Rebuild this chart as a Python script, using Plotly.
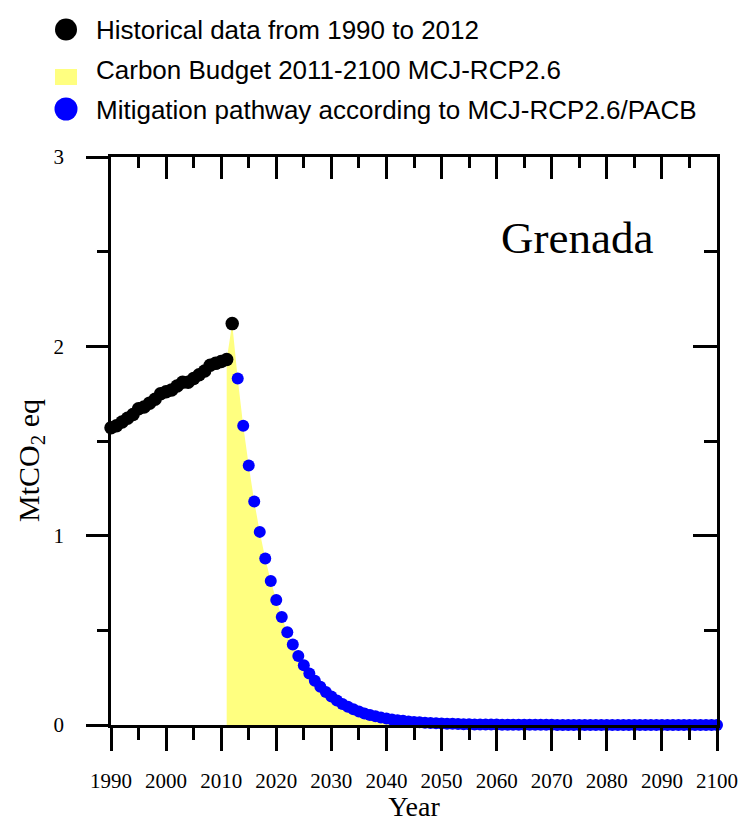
import plotly.graph_objects as go

# ---------------- data ----------------
hist_years = list(range(1990, 2013))
hist_values = [1.57, 1.58, 1.60, 1.62, 1.64, 1.67, 1.68, 1.70, 1.72, 1.75,
               1.76, 1.77, 1.79, 1.81, 1.81, 1.83, 1.85, 1.87, 1.90, 1.91,
               1.92, 1.93, 2.12]

mitig_years = list(range(2013, 2101))
mitig_values = [1.83, 1.58, 1.37, 1.18, 1.02, 0.88, 0.76, 0.66, 0.57, 0.49,
                0.425, 0.365, 0.315, 0.272, 0.234, 0.202, 0.174, 0.150, 0.129, 0.111,
                0.096, 0.083, 0.071, 0.061, 0.053, 0.046, 0.039, 0.034, 0.029, 0.025,
                0.022, 0.019, 0.016, 0.014, 0.012, 0.010, 0.009, 0.008, 0.007, 0.006,
                0.005, 0.004, 0.004, 0.003, 0.003, 0.002, 0.002, 0.002,
                0.001, 0.001, 0.001, 0.001, 0.001, 0.001, 0.001, 0.001, 0.001, 0.001,
                0.0, 0.0, 0.0, 0.0, 0.0, 0.0, 0.0, 0.0, 0.0, 0.0,
                0.0, 0.0, 0.0, 0.0, 0.0, 0.0, 0.0, 0.0, 0.0, 0.0,
                0.0, 0.0, 0.0, 0.0, 0.0, 0.0, 0.0, 0.0, 0.0, 0.0]

budget_start_year = 2011
country = "Grenada"
y_title = "MtCO<sub>2</sub> eq"
x_title = "Year"
legend_labels = ["Historical data from 1990 to 2012",
                 "Carbon Budget 2011-2100 MCJ-RCP2.6",
                 "Mitigation pathway according to MCJ-RCP2.6/PACB"]

# carbon budget polygon: from 2011 historical value, through 2012 peak, along pathway
i0 = hist_years.index(budget_start_year)
budget_x = hist_years[i0:] + mitig_years
budget_y = hist_values[i0:] + mitig_values

# ---------------- geometry helpers ----------------
W, H = 739, 822
L, R, T, B = 111, 717, 157, 725
PW, PH = R - L, B - T


def px(x):
    return (x - L) / PW


def py(y):
    return (B - y) / PH


SERIF = "Liberation Serif"
SANS = "Liberation Sans"

fig = go.Figure()

fig.add_trace(go.Scatter(x=budget_x, y=budget_y, mode="none", fill="tozeroy",
                         fillcolor="#ffff80", showlegend=False, hoverinfo="skip"))
fig.add_trace(go.Scatter(x=mitig_years, y=mitig_values, mode="markers",
                         marker=dict(color="#0000ff", size=12, line=dict(width=0)),
                         cliponaxis=False, showlegend=False))
fig.add_trace(go.Scatter(x=hist_years, y=hist_values, mode="markers",
                         marker=dict(color="black", size=13.5, line=dict(width=0)),
                         cliponaxis=False, showlegend=False))
# empty trace to create the mirrored (top/right) axes
fig.add_trace(go.Scatter(x=[], y=[], xaxis="x2", yaxis="y2", showlegend=False))

axis_common = dict(showgrid=False, zeroline=False, showline=True, linecolor="black",
                   linewidth=2.5, tickcolor="black", tickwidth=2.5, automargin=False)

fig.update_layout(
    width=W, height=H,
    margin=dict(l=L, r=W - R, t=T, b=H - B, pad=0, autoexpand=False),
    plot_bgcolor="white", paper_bgcolor="white",
    showlegend=False,
    xaxis=dict(range=[1990, 2100], dtick=10, tick0=1990, ticks="outside", ticklen=23,
               minor=dict(dtick=5, tick0=1990, ticks="outside", ticklen=12,
                          tickwidth=2.5, tickcolor="black"),
               tickfont=dict(family=SERIF, size=21, color="black"),
               ticklabelstandoff=12,
               title=dict(text=x_title, font=dict(family=SERIF, size=28, color="black"),
                          standoff=2),
               **axis_common),
    yaxis=dict(range=[0, 3], dtick=1, ticks="outside", ticklen=22,
               minor=dict(dtick=0.5, ticks="outside", ticklen=11,
                          tickwidth=2.5, tickcolor="black"),
               tickfont=dict(family=SERIF, size=21, color="black"),
               ticklabelstandoff=18,
               **axis_common),
    xaxis2=dict(range=[1990, 2100], overlaying="x", side="top", anchor="y2",
                dtick=10, tick0=1990, ticks="inside", ticklen=22, showticklabels=False,
                minor=dict(dtick=5, tick0=1990, ticks="inside", ticklen=11,
                           tickwidth=2.5, tickcolor="black"),
                **axis_common),
    yaxis2=dict(range=[0, 3], overlaying="y", side="right", anchor="x2",
                dtick=1, ticks="inside", ticklen=24, showticklabels=False,
                minor=dict(dtick=0.5, ticks="inside", ticklen=13,
                           tickwidth=2.5, tickcolor="black"),
                **axis_common),
)

# y-axis title (as annotation to position it like the reference)
fig.add_annotation(x=px(31), y=py(461), xref="paper", yref="paper",
                   text=y_title, textangle=-90, showarrow=False,
                   xanchor="center", yanchor="middle",
                   font=dict(family=SERIF, size=30, color="black"))

# country label
fig.add_annotation(x=px(577), y=py(238), xref="paper", yref="paper",
                   text=country, showarrow=False, xanchor="center", yanchor="middle",
                   font=dict(family=SERIF, size=45, color="black"))

# custom legend
shapes = []
shapes.append(dict(type="circle", xref="paper", yref="paper",
                   xsizemode="pixel", ysizemode="pixel",
                   xanchor=px(66), yanchor=py(29.5),
                   x0=-11, x1=11, y0=-11, y1=11,
                   fillcolor="black", line=dict(width=0)))
shapes.append(dict(type="rect", xref="paper", yref="paper",
                   xsizemode="pixel", ysizemode="pixel",
                   xanchor=px(66), yanchor=py(77),
                   x0=-11, x1=11, y0=-8, y1=8,
                   fillcolor="#ffff80", line=dict(width=0)))
shapes.append(dict(type="circle", xref="paper", yref="paper",
                   xsizemode="pixel", ysizemode="pixel",
                   xanchor=px(66), yanchor=py(109),
                   x0=-11.5, x1=11.5, y0=-11.5, y1=11.5,
                   fillcolor="#0000ff", line=dict(width=0)))
fig.update_layout(shapes=shapes)

for label, yc in zip(legend_labels, [27.5, 68.0, 107.5]):
    fig.add_annotation(x=px(94), y=py(yc + 2), xref="paper", yref="paper",
                       text=label, showarrow=False, xanchor="left", yanchor="middle",
                       font=dict(family=SANS, size=26, color="black"))

fig.write_html("out.html",
               config={"displayModeBar": False},
               post_script="document.body.style.margin='0px';"
                           "document.body.style.overflow='hidden';")
